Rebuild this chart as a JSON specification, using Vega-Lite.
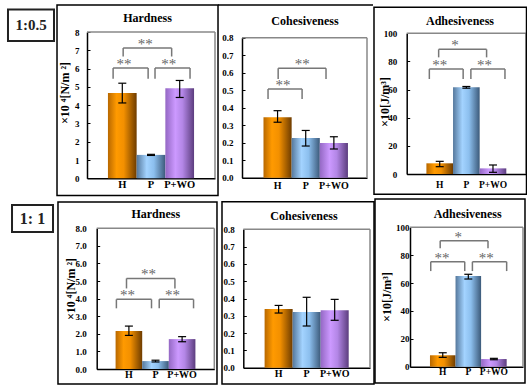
{
"$schema": "https://vega.github.io/schema/vega-lite/v6.json",
"background": "white",
"width": 527, "height": 385,
"autosize": {"type": "none"},
"padding": 0,
"datasets": {
"bars": [
{"panel":"t1","cat":"H","val":4.66,"lo":4.12,"hi":5.2},
{"panel":"t1","cat":"P","val":1.28,"lo":1.25,"hi":1.31},
{"panel":"t1","cat":"P+WO","val":4.93,"lo":4.42,"hi":5.35},
{"panel":"t2","cat":"H","val":0.345,"lo":0.317,"hi":0.383},
{"panel":"t2","cat":"P","val":0.227,"lo":0.181,"hi":0.27},
{"panel":"t2","cat":"P+WO","val":0.198,"lo":0.164,"hi":0.234},
{"panel":"t3","cat":"H","val":7.6,"lo":5.2,"hi":9.0},
{"panel":"t3","cat":"P","val":61.6,"lo":61.0,"hi":62.2},
{"panel":"t3","cat":"P+WO","val":4.0,"lo":1.2,"hi":6.4},
{"panel":"b1","cat":"H","val":2.16,"lo":1.91,"hi":2.44},
{"panel":"b1","cat":"P","val":0.45,"lo":0.4,"hi":0.5},
{"panel":"b1","cat":"P+WO","val":1.7,"lo":1.55,"hi":1.84},
{"panel":"b2","cat":"H","val":0.339,"lo":0.316,"hi":0.36},
{"panel":"b2","cat":"P","val":0.322,"lo":0.241,"hi":0.407},
{"panel":"b2","cat":"P+WO","val":0.332,"lo":0.274,"hi":0.395},
{"panel":"b3","cat":"H","val":8.2,"lo":6.7,"hi":10.0},
{"panel":"b3","cat":"P","val":65.1,"lo":62.9,"hi":66.3},
{"panel":"b3","cat":"P+WO","val":5.5,"lo":5.0,"hi":6.0}
],
"brk": [
{"panel":"t1","xa":-0.32,"xb":0.9,"yt":6.03,"yl":5.44,"sx":0.06,"star":"**"},
{"panel":"t1","xa":1.14,"xb":2.36,"yt":6.03,"yl":5.44,"sx":1.62,"star":"**"},
{"panel":"t1","xa":0.03,"xb":1.72,"yt":7.12,"yl":6.66,"sx":0.8,"star":"**"},
{"panel":"t2","xa":-0.34,"xb":0.87,"yt":0.507,"yl":0.45,"sx":0.19,"star":"**"},
{"panel":"t2","xa":0.02,"xb":1.72,"yt":0.625,"yl":0.564,"sx":0.88,"star":"**"},
{"panel":"t3","xa":-0.39,"xb":0.88,"yt":74.6,"yl":67.5,"sx":0.0,"star":"**"},
{"panel":"t3","xa":1.17,"xb":2.45,"yt":74.6,"yl":67.5,"sx":1.68,"star":"**"},
{"panel":"t3","xa":-0.04,"xb":1.76,"yt":88.6,"yl":82.9,"sx":0.57,"star":"*"},
{"panel":"b1","xa":-0.47,"xb":0.85,"yt":3.96,"yl":3.45,"sx":-0.05,"star":"**"},
{"panel":"b1","xa":1.14,"xb":2.43,"yt":3.96,"yl":3.45,"sx":1.64,"star":"**"},
{"panel":"b1","xa":-0.09,"xb":1.73,"yt":5.15,"yl":4.58,"sx":0.74,"star":"**"},
{"panel":"b3","xa":-0.47,"xb":0.86,"yt":75.3,"yl":68.6,"sx":-0.03,"star":"**"},
{"panel":"b3","xa":1.16,"xb":2.5,"yt":75.3,"yl":68.6,"sx":1.7,"star":"**"},
{"panel":"b3","xa":-0.1,"xb":1.77,"yt":90.4,"yl":84.9,"sx":0.61,"star":"*"}
]
},
"config": {
"font": "Liberation Serif",
"view": {"stroke": null},
"axis": {"labelFont": "Liberation Serif", "labelFontWeight": "bold", "labelColor": "black", "labelFontSize": 9, "domainColor": "black", "domainWidth": 1.5, "tickColor": "black", "grid": false, "labelOverlap": false, "minExtent": 0},
"axisX": {"ticks": false, "labelAngle": 0},
"axisY": {"tickSize": -3, "tickWidth": 1},
"text": {"font": "Liberation Serif"}
},
"resolve": {"scale": {"x": "independent", "y": "independent"}, "axis": {"x": "independent", "y": "independent"}},
"layer": [
{"resolve": {"scale": {"x": "independent"}}, "layer": [
{"layer": [
{"data": {"name": "bars"}, "transform": [{"filter": "datum.panel==='t1' && datum.cat==='H'"}],
"mark": {"type": "bar", "fill": {"gradient": "linear", "x1": 0, "y1": 0, "x2": 1, "y2": 0, "stops": [{"offset": 0, "color": "#b86800"}, {"offset": 0.3, "color": "#ff9a00"}, {"offset": 0.55, "color": "#f39000"}, {"offset": 1, "color": "#6e3c00"}]}},
"encoding": {"x": {"field": "cat", "type": "nominal", "scale": {"domain": ["H", "P", "P+WO"], "range": [87, 215], "paddingInner": 0, "paddingOuter": 0.73}, "axis": {"orient": "bottom", "offset": -206.7, "title": null, "labelFontSize": 10.5, "labelPadding": 1}},
"y": {"field": "val", "type": "quantitative", "scale": {"domain": [0, 8], "range": [178.3, 32], "nice": false, "zero": false}, "axis": {"orient": "left", "offset": -87, "values": [0, 1, 2, 3, 4, 5, 6, 7, 8], "format": "d", "title": null, "labelPadding": 11}}}},
{"data": {"name": "bars"}, "transform": [{"filter": "datum.panel==='t1' && datum.cat==='P'"}],
"mark": {"type": "bar", "fill": {"gradient": "linear", "x1": 0, "y1": 0, "x2": 1, "y2": 0, "stops": [{"offset": 0, "color": "#55789c"}, {"offset": 0.35, "color": "#a3d3ff"}, {"offset": 0.6, "color": "#8cbfee"}, {"offset": 1, "color": "#3c5a7a"}]}},
"encoding": {"x": {"field": "cat", "type": "nominal", "axis": {"orient": "bottom", "offset": -206.7, "title": null, "labelFontSize": 10.5, "labelPadding": 1}}, "y": {"field": "val", "type": "quantitative", "axis": {"orient": "left", "offset": -87, "values": [0, 1, 2, 3, 4, 5, 6, 7, 8], "format": "d", "title": null, "labelPadding": 11}}}},
{"data": {"name": "bars"}, "transform": [{"filter": "datum.panel==='t1' && datum.cat==='P+WO'"}],
"mark": {"type": "bar", "fill": {"gradient": "linear", "x1": 0, "y1": 0, "x2": 1, "y2": 0, "stops": [{"offset": 0, "color": "#9468c4"}, {"offset": 0.35, "color": "#cc99ff"}, {"offset": 0.6, "color": "#b386e6"}, {"offset": 1, "color": "#5c3d7e"}]}},
"encoding": {"x": {"field": "cat", "type": "nominal", "axis": {"orient": "bottom", "offset": -206.7, "title": null, "labelFontSize": 10.5, "labelPadding": 1}}, "y": {"field": "val", "type": "quantitative", "axis": {"orient": "left", "offset": -87, "values": [0, 1, 2, 3, 4, 5, 6, 7, 8], "format": "d", "title": null, "labelPadding": 11}}}},
{"data": {"name": "bars"}, "transform": [{"filter": "datum.panel==='t1'"}], "mark": {"type": "rule", "color": "black", "strokeWidth": 1.2},
"encoding": {"x": {"field": "cat", "type": "nominal", "axis": {"orient": "bottom", "offset": -206.7, "title": null, "labelFontSize": 10.5, "labelPadding": 1}}, "y": {"field": "lo", "type": "quantitative", "axis": {"orient": "left", "offset": -87, "values": [0, 1, 2, 3, 4, 5, 6, 7, 8], "format": "d", "title": null, "labelPadding": 11}}, "y2": {"field": "hi"}}},
{"data": {"name": "bars"}, "transform": [{"filter": "datum.panel==='t1'"}], "mark": {"type": "tick", "color": "black", "thickness": 1.2, "size": 8, "opacity": 1},
"encoding": {"x": {"field": "cat", "type": "nominal", "axis": {"orient": "bottom", "offset": -206.7, "title": null, "labelFontSize": 10.5, "labelPadding": 1}}, "y": {"field": "lo", "type": "quantitative", "axis": {"orient": "left", "offset": -87, "values": [0, 1, 2, 3, 4, 5, 6, 7, 8], "format": "d", "title": null, "labelPadding": 11}}}},
{"data": {"name": "bars"}, "transform": [{"filter": "datum.panel==='t1'"}], "mark": {"type": "tick", "color": "black", "thickness": 1.2, "size": 8, "opacity": 1},
"encoding": {"x": {"field": "cat", "type": "nominal", "axis": {"orient": "bottom", "offset": -206.7, "title": null, "labelFontSize": 10.5, "labelPadding": 1}}, "y": {"field": "hi", "type": "quantitative", "axis": {"orient": "left", "offset": -87, "values": [0, 1, 2, 3, 4, 5, 6, 7, 8], "format": "d", "title": null, "labelPadding": 11}}}}
]},
{"layer": [
{"data": {"values": [{}]}, "mark": {"type": "rule", "color": "#888", "strokeWidth": 1.5},
"encoding": {"x": {"datum": -1.23, "type": "quantitative", "scale": {"domain": [-1.23, 3.23], "range": [87, 215], "nice": false, "zero": false}, "axis": null}, "x2": {"datum": 3.23}, "y": {"datum": 8, "type": "quantitative", "axis": {"orient": "left", "offset": -87, "values": [0, 1, 2, 3, 4, 5, 6, 7, 8], "format": "d", "title": null, "labelPadding": 11}}}},
{"data": {"values": [{}]}, "mark": {"type": "rule", "color": "#888", "strokeWidth": 1.5},
"encoding": {"x": {"datum": 3.23, "type": "quantitative", "axis": null}, "y": {"datum": 0, "type": "quantitative", "axis": {"orient": "left", "offset": -87, "values": [0, 1, 2, 3, 4, 5, 6, 7, 8], "format": "d", "title": null, "labelPadding": 11}}, "y2": {"datum": 8}}},
{"data": {"name": "brk"}, "transform": [{"filter": "datum.panel==='t1'"}], "mark": {"type": "rule", "color": "#777", "strokeWidth": 1.5},
"encoding": {"x": {"field": "xa", "type": "quantitative", "axis": null}, "x2": {"field": "xb"}, "y": {"field": "yt", "type": "quantitative", "axis": {"orient": "left", "offset": -87, "values": [0, 1, 2, 3, 4, 5, 6, 7, 8], "format": "d", "title": null, "labelPadding": 11}}}},
{"data": {"name": "brk"}, "transform": [{"filter": "datum.panel==='t1'"}], "mark": {"type": "rule", "color": "#777", "strokeWidth": 1.5},
"encoding": {"x": {"field": "xa", "type": "quantitative", "axis": null}, "y": {"field": "yt", "type": "quantitative", "axis": {"orient": "left", "offset": -87, "values": [0, 1, 2, 3, 4, 5, 6, 7, 8], "format": "d", "title": null, "labelPadding": 11}}, "y2": {"field": "yl"}}},
{"data": {"name": "brk"}, "transform": [{"filter": "datum.panel==='t1'"}], "mark": {"type": "rule", "color": "#777", "strokeWidth": 1.5},
"encoding": {"x": {"field": "xb", "type": "quantitative", "axis": null}, "y": {"field": "yt", "type": "quantitative", "axis": {"orient": "left", "offset": -87, "values": [0, 1, 2, 3, 4, 5, 6, 7, 8], "format": "d", "title": null, "labelPadding": 11}}, "y2": {"field": "yl"}}},
{"data": {"name": "brk"}, "transform": [{"filter": "datum.panel==='t1'"}], "mark": {"type": "text", "fontSize": 15, "fill": "#666", "baseline": "alphabetic", "dy": 1},
"encoding": {"x": {"field": "sx", "type": "quantitative", "axis": null}, "y": {"field": "yt", "type": "quantitative", "axis": {"orient": "left", "offset": -87, "values": [0, 1, 2, 3, 4, 5, 6, 7, 8], "format": "d", "title": null, "labelPadding": 11}}, "text": {"field": "star"}}},
{"data": {"values": [{}]}, "mark": {"type": "rect", "filled": false, "stroke": "black", "strokeWidth": 1.5},
"encoding": {"x": {"datum": -2.275, "type": "quantitative", "axis": null}, "x2": {"datum": 3.335}, "y": {"datum": 9.477, "type": "quantitative", "axis": {"orient": "left", "offset": -87, "values": [0, 1, 2, 3, 4, 5, 6, 7, 8], "format": "d", "title": null, "labelPadding": 11}}, "y2": {"datum": -0.9405}}},
{"data": {"values": [{}]}, "mark": {"type": "rect", "filled": false, "stroke": "#222", "strokeWidth": 2},
"encoding": {"x": {"datum": -3.983, "type": "quantitative", "axis": null}, "x2": {"datum": -2.38}, "y": {"datum": 9.23, "type": "quantitative", "axis": {"orient": "left", "offset": -87, "values": [0, 1, 2, 3, 4, 5, 6, 7, 8], "format": "d", "title": null, "labelPadding": 11}}, "y2": {"datum": 7.508}}},
{"data": {"values": [{}]}, "mark": {"type": "text", "text": "1:0.5", "fontSize": 15, "fontWeight": "bold", "fill": "#222", "baseline": "middle"},
"encoding": {"x": {"datum": -3.181, "type": "quantitative", "axis": null}, "y": {"datum": 8.383, "type": "quantitative", "axis": {"orient": "left", "offset": -87, "values": [0, 1, 2, 3, 4, 5, 6, 7, 8], "format": "d", "title": null, "labelPadding": 11}}}},
{"data": {"values": [{}]}, "mark": {"type": "text", "text": "Hardness", "fontSize": 12, "fontWeight": "bold", "fill": "black", "baseline": "middle"},
"encoding": {"x": {"datum": 0.878, "type": "quantitative", "axis": null}, "y": {"datum": 8.766, "type": "quantitative", "axis": {"orient": "left", "offset": -87, "values": [0, 1, 2, 3, 4, 5, 6, 7, 8], "format": "d", "title": null, "labelPadding": 11}}}},
{"data": {"values": [{}]}, "mark": {"type": "text", "text": "×10 ⁴[N/m ²]", "fontSize": 12, "fontWeight": "bold", "fill": "black", "baseline": "middle", "angle": 270},
"encoding": {"x": {"datum": -1.997, "type": "quantitative", "axis": null}, "y": {"datum": 4.664, "type": "quantitative", "axis": {"orient": "left", "offset": -87, "values": [0, 1, 2, 3, 4, 5, 6, 7, 8], "format": "d", "title": null, "labelPadding": 11}}}}
]}
]},
{"resolve": {"scale": {"x": "independent"}}, "layer": [
{"layer": [
{"data": {"name": "bars"}, "transform": [{"filter": "datum.panel==='t2' && datum.cat==='H'"}],
"mark": {"type": "bar", "fill": {"gradient": "linear", "x1": 0, "y1": 0, "x2": 1, "y2": 0, "stops": [{"offset": 0, "color": "#b86800"}, {"offset": 0.3, "color": "#ff9a00"}, {"offset": 0.55, "color": "#f39000"}, {"offset": 1, "color": "#6e3c00"}]}},
"encoding": {"x": {"field": "cat", "type": "nominal", "scale": {"domain": ["H", "P", "P+WO"], "range": [242, 367], "paddingInner": 0, "paddingOuter": 0.72, "align": 0.53}, "axis": {"orient": "bottom", "offset": -207.3, "title": null, "labelFontSize": 10, "labelPadding": 3}},
"y": {"field": "val", "type": "quantitative", "scale": {"domain": [0, 0.8], "range": [177.7, 37.7], "nice": false, "zero": false}, "axis": {"orient": "left", "offset": -242, "values": [0, 0.1, 0.2, 0.3, 0.4, 0.5, 0.6, 0.7, 0.8], "format": ".1f", "title": null, "labelPadding": 12}}}},
{"data": {"name": "bars"}, "transform": [{"filter": "datum.panel==='t2' && datum.cat==='P'"}],
"mark": {"type": "bar", "fill": {"gradient": "linear", "x1": 0, "y1": 0, "x2": 1, "y2": 0, "stops": [{"offset": 0, "color": "#55789c"}, {"offset": 0.35, "color": "#a3d3ff"}, {"offset": 0.6, "color": "#8cbfee"}, {"offset": 1, "color": "#3c5a7a"}]}},
"encoding": {"x": {"field": "cat", "type": "nominal", "axis": {"orient": "bottom", "offset": -207.3, "title": null, "labelFontSize": 10, "labelPadding": 3}}, "y": {"field": "val", "type": "quantitative", "axis": {"orient": "left", "offset": -242, "values": [0, 0.1, 0.2, 0.3, 0.4, 0.5, 0.6, 0.7, 0.8], "format": ".1f", "title": null, "labelPadding": 12}}}},
{"data": {"name": "bars"}, "transform": [{"filter": "datum.panel==='t2' && datum.cat==='P+WO'"}],
"mark": {"type": "bar", "fill": {"gradient": "linear", "x1": 0, "y1": 0, "x2": 1, "y2": 0, "stops": [{"offset": 0, "color": "#9468c4"}, {"offset": 0.35, "color": "#cc99ff"}, {"offset": 0.6, "color": "#b386e6"}, {"offset": 1, "color": "#5c3d7e"}]}},
"encoding": {"x": {"field": "cat", "type": "nominal", "axis": {"orient": "bottom", "offset": -207.3, "title": null, "labelFontSize": 10, "labelPadding": 3}}, "y": {"field": "val", "type": "quantitative", "axis": {"orient": "left", "offset": -242, "values": [0, 0.1, 0.2, 0.3, 0.4, 0.5, 0.6, 0.7, 0.8], "format": ".1f", "title": null, "labelPadding": 12}}}},
{"data": {"name": "bars"}, "transform": [{"filter": "datum.panel==='t2'"}], "mark": {"type": "rule", "color": "black", "strokeWidth": 1.2},
"encoding": {"x": {"field": "cat", "type": "nominal", "axis": {"orient": "bottom", "offset": -207.3, "title": null, "labelFontSize": 10, "labelPadding": 3}}, "y": {"field": "lo", "type": "quantitative", "axis": {"orient": "left", "offset": -242, "values": [0, 0.1, 0.2, 0.3, 0.4, 0.5, 0.6, 0.7, 0.8], "format": ".1f", "title": null, "labelPadding": 12}}, "y2": {"field": "hi"}}},
{"data": {"name": "bars"}, "transform": [{"filter": "datum.panel==='t2'"}], "mark": {"type": "tick", "color": "black", "thickness": 1.2, "size": 8, "opacity": 1},
"encoding": {"x": {"field": "cat", "type": "nominal", "axis": {"orient": "bottom", "offset": -207.3, "title": null, "labelFontSize": 10, "labelPadding": 3}}, "y": {"field": "lo", "type": "quantitative", "axis": {"orient": "left", "offset": -242, "values": [0, 0.1, 0.2, 0.3, 0.4, 0.5, 0.6, 0.7, 0.8], "format": ".1f", "title": null, "labelPadding": 12}}}},
{"data": {"name": "bars"}, "transform": [{"filter": "datum.panel==='t2'"}], "mark": {"type": "tick", "color": "black", "thickness": 1.2, "size": 8, "opacity": 1},
"encoding": {"x": {"field": "cat", "type": "nominal", "axis": {"orient": "bottom", "offset": -207.3, "title": null, "labelFontSize": 10, "labelPadding": 3}}, "y": {"field": "hi", "type": "quantitative", "axis": {"orient": "left", "offset": -242, "values": [0, 0.1, 0.2, 0.3, 0.4, 0.5, 0.6, 0.7, 0.8], "format": ".1f", "title": null, "labelPadding": 12}}}}
]},
{"layer": [
{"data": {"values": [{}]}, "mark": {"type": "rule", "color": "#888", "strokeWidth": 1.5},
"encoding": {"x": {"datum": -1.265, "type": "quantitative", "scale": {"domain": [-1.265, 3.176], "range": [242, 367], "nice": false, "zero": false}, "axis": null}, "x2": {"datum": 3.176}, "y": {"datum": 0.8, "type": "quantitative", "axis": {"orient": "left", "offset": -242, "values": [0, 0.1, 0.2, 0.3, 0.4, 0.5, 0.6, 0.7, 0.8], "format": ".1f", "title": null, "labelPadding": 12}}}},
{"data": {"values": [{}]}, "mark": {"type": "rule", "color": "#888", "strokeWidth": 1.5},
"encoding": {"x": {"datum": 3.176, "type": "quantitative", "axis": null}, "y": {"datum": 0, "type": "quantitative", "axis": {"orient": "left", "offset": -242, "values": [0, 0.1, 0.2, 0.3, 0.4, 0.5, 0.6, 0.7, 0.8], "format": ".1f", "title": null, "labelPadding": 12}}, "y2": {"datum": 0.8}}},
{"data": {"name": "brk"}, "transform": [{"filter": "datum.panel==='t2'"}], "mark": {"type": "rule", "color": "#777", "strokeWidth": 1.5},
"encoding": {"x": {"field": "xa", "type": "quantitative", "axis": null}, "x2": {"field": "xb"}, "y": {"field": "yt", "type": "quantitative", "axis": {"orient": "left", "offset": -242, "values": [0, 0.1, 0.2, 0.3, 0.4, 0.5, 0.6, 0.7, 0.8], "format": ".1f", "title": null, "labelPadding": 12}}}},
{"data": {"name": "brk"}, "transform": [{"filter": "datum.panel==='t2'"}], "mark": {"type": "rule", "color": "#777", "strokeWidth": 1.5},
"encoding": {"x": {"field": "xa", "type": "quantitative", "axis": null}, "y": {"field": "yt", "type": "quantitative", "axis": {"orient": "left", "offset": -242, "values": [0, 0.1, 0.2, 0.3, 0.4, 0.5, 0.6, 0.7, 0.8], "format": ".1f", "title": null, "labelPadding": 12}}, "y2": {"field": "yl"}}},
{"data": {"name": "brk"}, "transform": [{"filter": "datum.panel==='t2'"}], "mark": {"type": "rule", "color": "#777", "strokeWidth": 1.5},
"encoding": {"x": {"field": "xb", "type": "quantitative", "axis": null}, "y": {"field": "yt", "type": "quantitative", "axis": {"orient": "left", "offset": -242, "values": [0, 0.1, 0.2, 0.3, 0.4, 0.5, 0.6, 0.7, 0.8], "format": ".1f", "title": null, "labelPadding": 12}}, "y2": {"field": "yl"}}},
{"data": {"name": "brk"}, "transform": [{"filter": "datum.panel==='t2'"}], "mark": {"type": "text", "fontSize": 15, "fill": "#666", "baseline": "alphabetic", "dy": 1},
"encoding": {"x": {"field": "sx", "type": "quantitative", "axis": null}, "y": {"field": "yt", "type": "quantitative", "axis": {"orient": "left", "offset": -242, "values": [0, 0.1, 0.2, 0.3, 0.4, 0.5, 0.6, 0.7, 0.8], "format": ".1f", "title": null, "labelPadding": 12}}, "text": {"field": "star"}}},
{"data": {"values": [{}]}, "mark": {"type": "rule", "color": "black", "strokeWidth": 1.5},
"encoding": {"x": {"datum": -2.118, "type": "quantitative", "axis": null}, "x2": {"datum": 3.389}, "y": {"datum": 0.9869, "type": "quantitative", "axis": {"orient": "left", "offset": -242, "values": [0, 0.1, 0.2, 0.3, 0.4, 0.5, 0.6, 0.7, 0.8], "format": ".1f", "title": null, "labelPadding": 12}}}},
{"data": {"values": [{}]}, "mark": {"type": "text", "text": "Cohesiveness", "fontSize": 12, "fontWeight": "bold", "fill": "black", "baseline": "middle"},
"encoding": {"x": {"datum": 0.973, "type": "quantitative", "axis": null}, "y": {"datum": 0.8971, "type": "quantitative", "axis": {"orient": "left", "offset": -242, "values": [0, 0.1, 0.2, 0.3, 0.4, 0.5, 0.6, 0.7, 0.8], "format": ".1f", "title": null, "labelPadding": 12}}}}
]}
]},
{"resolve": {"scale": {"x": "independent"}}, "layer": [
{"layer": [
{"data": {"name": "bars"}, "transform": [{"filter": "datum.panel==='t3' && datum.cat==='H'"}],
"mark": {"type": "bar", "fill": {"gradient": "linear", "x1": 0, "y1": 0, "x2": 1, "y2": 0, "stops": [{"offset": 0, "color": "#b86800"}, {"offset": 0.3, "color": "#ff9a00"}, {"offset": 0.55, "color": "#f39000"}, {"offset": 1, "color": "#6e3c00"}]}},
"encoding": {"x": {"field": "cat", "type": "nominal", "scale": {"domain": ["H", "P", "P+WO"], "range": [406.7, 526], "paddingInner": 0, "paddingOuter": 0.74}, "axis": {"orient": "bottom", "offset": -211, "title": null, "labelFontSize": 9.5, "labelPadding": 5}},
"y": {"field": "val", "type": "quantitative", "scale": {"domain": [0, 100], "range": [174, 33.3], "nice": false, "zero": false}, "axis": {"orient": "left", "offset": -406.7, "values": [0, 20, 40, 60, 80, 100], "format": "d", "title": null, "labelPadding": 13}}}},
{"data": {"name": "bars"}, "transform": [{"filter": "datum.panel==='t3' && datum.cat==='P'"}],
"mark": {"type": "bar", "fill": {"gradient": "linear", "x1": 0, "y1": 0, "x2": 1, "y2": 0, "stops": [{"offset": 0, "color": "#55789c"}, {"offset": 0.35, "color": "#a3d3ff"}, {"offset": 0.6, "color": "#8cbfee"}, {"offset": 1, "color": "#3c5a7a"}]}},
"encoding": {"x": {"field": "cat", "type": "nominal", "axis": {"orient": "bottom", "offset": -211, "title": null, "labelFontSize": 9.5, "labelPadding": 5}}, "y": {"field": "val", "type": "quantitative", "axis": {"orient": "left", "offset": -406.7, "values": [0, 20, 40, 60, 80, 100], "format": "d", "title": null, "labelPadding": 13}}}},
{"data": {"name": "bars"}, "transform": [{"filter": "datum.panel==='t3' && datum.cat==='P+WO'"}],
"mark": {"type": "bar", "fill": {"gradient": "linear", "x1": 0, "y1": 0, "x2": 1, "y2": 0, "stops": [{"offset": 0, "color": "#9468c4"}, {"offset": 0.35, "color": "#cc99ff"}, {"offset": 0.6, "color": "#b386e6"}, {"offset": 1, "color": "#5c3d7e"}]}},
"encoding": {"x": {"field": "cat", "type": "nominal", "axis": {"orient": "bottom", "offset": -211, "title": null, "labelFontSize": 9.5, "labelPadding": 5}}, "y": {"field": "val", "type": "quantitative", "axis": {"orient": "left", "offset": -406.7, "values": [0, 20, 40, 60, 80, 100], "format": "d", "title": null, "labelPadding": 13}}}},
{"data": {"name": "bars"}, "transform": [{"filter": "datum.panel==='t3'"}], "mark": {"type": "rule", "color": "black", "strokeWidth": 1.2},
"encoding": {"x": {"field": "cat", "type": "nominal", "axis": {"orient": "bottom", "offset": -211, "title": null, "labelFontSize": 9.5, "labelPadding": 5}}, "y": {"field": "lo", "type": "quantitative", "axis": {"orient": "left", "offset": -406.7, "values": [0, 20, 40, 60, 80, 100], "format": "d", "title": null, "labelPadding": 13}}, "y2": {"field": "hi"}}},
{"data": {"name": "bars"}, "transform": [{"filter": "datum.panel==='t3'"}], "mark": {"type": "tick", "color": "black", "thickness": 1.2, "size": 8, "opacity": 1},
"encoding": {"x": {"field": "cat", "type": "nominal", "axis": {"orient": "bottom", "offset": -211, "title": null, "labelFontSize": 9.5, "labelPadding": 5}}, "y": {"field": "lo", "type": "quantitative", "axis": {"orient": "left", "offset": -406.7, "values": [0, 20, 40, 60, 80, 100], "format": "d", "title": null, "labelPadding": 13}}}},
{"data": {"name": "bars"}, "transform": [{"filter": "datum.panel==='t3'"}], "mark": {"type": "tick", "color": "black", "thickness": 1.2, "size": 8, "opacity": 1},
"encoding": {"x": {"field": "cat", "type": "nominal", "axis": {"orient": "bottom", "offset": -211, "title": null, "labelFontSize": 9.5, "labelPadding": 5}}, "y": {"field": "hi", "type": "quantitative", "axis": {"orient": "left", "offset": -406.7, "values": [0, 20, 40, 60, 80, 100], "format": "d", "title": null, "labelPadding": 13}}}}
]},
{"layer": [
{"data": {"values": [{}]}, "mark": {"type": "rule", "color": "#888", "strokeWidth": 1.5},
"encoding": {"x": {"datum": -1.24, "type": "quantitative", "scale": {"domain": [-1.24, 3.24], "range": [406.7, 526], "nice": false, "zero": false}, "axis": null}, "x2": {"datum": 3.24}, "y": {"datum": 100, "type": "quantitative", "axis": {"orient": "left", "offset": -406.7, "values": [0, 20, 40, 60, 80, 100], "format": "d", "title": null, "labelPadding": 13}}}},
{"data": {"values": [{}]}, "mark": {"type": "rule", "color": "#888", "strokeWidth": 1.5},
"encoding": {"x": {"datum": 3.24, "type": "quantitative", "axis": null}, "y": {"datum": 0, "type": "quantitative", "axis": {"orient": "left", "offset": -406.7, "values": [0, 20, 40, 60, 80, 100], "format": "d", "title": null, "labelPadding": 13}}, "y2": {"datum": 100}}},
{"data": {"name": "brk"}, "transform": [{"filter": "datum.panel==='t3'"}], "mark": {"type": "rule", "color": "#777", "strokeWidth": 1.5},
"encoding": {"x": {"field": "xa", "type": "quantitative", "axis": null}, "x2": {"field": "xb"}, "y": {"field": "yt", "type": "quantitative", "axis": {"orient": "left", "offset": -406.7, "values": [0, 20, 40, 60, 80, 100], "format": "d", "title": null, "labelPadding": 13}}}},
{"data": {"name": "brk"}, "transform": [{"filter": "datum.panel==='t3'"}], "mark": {"type": "rule", "color": "#777", "strokeWidth": 1.5},
"encoding": {"x": {"field": "xa", "type": "quantitative", "axis": null}, "y": {"field": "yt", "type": "quantitative", "axis": {"orient": "left", "offset": -406.7, "values": [0, 20, 40, 60, 80, 100], "format": "d", "title": null, "labelPadding": 13}}, "y2": {"field": "yl"}}},
{"data": {"name": "brk"}, "transform": [{"filter": "datum.panel==='t3'"}], "mark": {"type": "rule", "color": "#777", "strokeWidth": 1.5},
"encoding": {"x": {"field": "xb", "type": "quantitative", "axis": null}, "y": {"field": "yt", "type": "quantitative", "axis": {"orient": "left", "offset": -406.7, "values": [0, 20, 40, 60, 80, 100], "format": "d", "title": null, "labelPadding": 13}}, "y2": {"field": "yl"}}},
{"data": {"name": "brk"}, "transform": [{"filter": "datum.panel==='t3'"}], "mark": {"type": "text", "fontSize": 15, "fill": "#666", "baseline": "alphabetic", "dy": 1},
"encoding": {"x": {"field": "sx", "type": "quantitative", "axis": null}, "y": {"field": "yt", "type": "quantitative", "axis": {"orient": "left", "offset": -406.7, "values": [0, 20, 40, 60, 80, 100], "format": "d", "title": null, "labelPadding": 13}}, "text": {"field": "star"}}},
{"data": {"values": [{}]}, "mark": {"type": "rect", "filled": false, "stroke": "black", "strokeWidth": 1.5},
"encoding": {"x": {"datum": -2.468, "type": "quantitative", "axis": null}, "x2": {"datum": 3.259}, "y": {"datum": 118.5, "type": "quantitative", "axis": {"orient": "left", "offset": -406.7, "values": [0, 20, 40, 60, 80, 100], "format": "d", "title": null, "labelPadding": 13}}, "y2": {"datum": -14.43}}},
{"data": {"values": [{}]}, "mark": {"type": "text", "text": "Adhesiveness", "fontSize": 12, "fontWeight": "bold", "fill": "black", "baseline": "middle"},
"encoding": {"x": {"datum": 0.762, "type": "quantitative", "axis": null}, "y": {"datum": 108.96, "type": "quantitative", "axis": {"orient": "left", "offset": -406.7, "values": [0, 20, 40, 60, 80, 100], "format": "d", "title": null, "labelPadding": 13}}}},
{"data": {"values": [{}]}, "mark": {"type": "text", "text": "×10[J/m³]", "fontSize": 12, "fontWeight": "bold", "fill": "black", "baseline": "middle", "angle": 270},
"encoding": {"x": {"datum": -2.055, "type": "quantitative", "axis": null}, "y": {"datum": 51.17, "type": "quantitative", "axis": {"orient": "left", "offset": -406.7, "values": [0, 20, 40, 60, 80, 100], "format": "d", "title": null, "labelPadding": 13}}}}
]}
]},
{"resolve": {"scale": {"x": "independent"}}, "layer": [
{"layer": [
{"data": {"name": "bars"}, "transform": [{"filter": "datum.panel==='b1' && datum.cat==='H'"}],
"mark": {"type": "bar", "fill": {"gradient": "linear", "x1": 0, "y1": 0, "x2": 1, "y2": 0, "stops": [{"offset": 0, "color": "#b86800"}, {"offset": 0.3, "color": "#ff9a00"}, {"offset": 0.55, "color": "#f39000"}, {"offset": 1, "color": "#6e3c00"}]}},
"encoding": {"x": {"field": "cat", "type": "nominal", "scale": {"domain": ["H", "P", "P+WO"], "range": [96.7, 214.3], "paddingInner": 0, "paddingOuter": 0.71}, "axis": {"orient": "bottom", "offset": -16, "title": null, "labelFontSize": 10, "labelPadding": 0}},
"y": {"field": "val", "type": "quantitative", "scale": {"domain": [0, 8], "range": [369, 228.3], "nice": false, "zero": false}, "axis": {"orient": "left", "offset": -96.7, "values": [0, 1, 2, 3, 4, 5, 6, 7, 8], "format": ".1f", "title": null, "labelPadding": 13.5}}}},
{"data": {"name": "bars"}, "transform": [{"filter": "datum.panel==='b1' && datum.cat==='P'"}],
"mark": {"type": "bar", "fill": {"gradient": "linear", "x1": 0, "y1": 0, "x2": 1, "y2": 0, "stops": [{"offset": 0, "color": "#55789c"}, {"offset": 0.35, "color": "#a3d3ff"}, {"offset": 0.6, "color": "#8cbfee"}, {"offset": 1, "color": "#3c5a7a"}]}},
"encoding": {"x": {"field": "cat", "type": "nominal", "axis": {"orient": "bottom", "offset": -16, "title": null, "labelFontSize": 10, "labelPadding": 0}}, "y": {"field": "val", "type": "quantitative", "axis": {"orient": "left", "offset": -96.7, "values": [0, 1, 2, 3, 4, 5, 6, 7, 8], "format": ".1f", "title": null, "labelPadding": 13.5}}}},
{"data": {"name": "bars"}, "transform": [{"filter": "datum.panel==='b1' && datum.cat==='P+WO'"}],
"mark": {"type": "bar", "fill": {"gradient": "linear", "x1": 0, "y1": 0, "x2": 1, "y2": 0, "stops": [{"offset": 0, "color": "#9468c4"}, {"offset": 0.35, "color": "#cc99ff"}, {"offset": 0.6, "color": "#b386e6"}, {"offset": 1, "color": "#5c3d7e"}]}},
"encoding": {"x": {"field": "cat", "type": "nominal", "axis": {"orient": "bottom", "offset": -16, "title": null, "labelFontSize": 10, "labelPadding": 0}}, "y": {"field": "val", "type": "quantitative", "axis": {"orient": "left", "offset": -96.7, "values": [0, 1, 2, 3, 4, 5, 6, 7, 8], "format": ".1f", "title": null, "labelPadding": 13.5}}}},
{"data": {"name": "bars"}, "transform": [{"filter": "datum.panel==='b1'"}], "mark": {"type": "rule", "color": "black", "strokeWidth": 1.2},
"encoding": {"x": {"field": "cat", "type": "nominal", "axis": {"orient": "bottom", "offset": -16, "title": null, "labelFontSize": 10, "labelPadding": 0}}, "y": {"field": "lo", "type": "quantitative", "axis": {"orient": "left", "offset": -96.7, "values": [0, 1, 2, 3, 4, 5, 6, 7, 8], "format": ".1f", "title": null, "labelPadding": 13.5}}, "y2": {"field": "hi"}}},
{"data": {"name": "bars"}, "transform": [{"filter": "datum.panel==='b1'"}], "mark": {"type": "tick", "color": "black", "thickness": 1.2, "size": 8, "opacity": 1},
"encoding": {"x": {"field": "cat", "type": "nominal", "axis": {"orient": "bottom", "offset": -16, "title": null, "labelFontSize": 10, "labelPadding": 0}}, "y": {"field": "lo", "type": "quantitative", "axis": {"orient": "left", "offset": -96.7, "values": [0, 1, 2, 3, 4, 5, 6, 7, 8], "format": ".1f", "title": null, "labelPadding": 13.5}}}},
{"data": {"name": "bars"}, "transform": [{"filter": "datum.panel==='b1'"}], "mark": {"type": "tick", "color": "black", "thickness": 1.2, "size": 8, "opacity": 1},
"encoding": {"x": {"field": "cat", "type": "nominal", "axis": {"orient": "bottom", "offset": -16, "title": null, "labelFontSize": 10, "labelPadding": 0}}, "y": {"field": "hi", "type": "quantitative", "axis": {"orient": "left", "offset": -96.7, "values": [0, 1, 2, 3, 4, 5, 6, 7, 8], "format": ".1f", "title": null, "labelPadding": 13.5}}}}
]},
{"layer": [
{"data": {"values": [{}]}, "mark": {"type": "rule", "color": "#888", "strokeWidth": 1.5},
"encoding": {"x": {"datum": -1.21, "type": "quantitative", "scale": {"domain": [-1.21, 3.21], "range": [96.7, 214.3], "nice": false, "zero": false}, "axis": null}, "x2": {"datum": 3.21}, "y": {"datum": 8, "type": "quantitative", "axis": {"orient": "left", "offset": -96.7, "values": [0, 1, 2, 3, 4, 5, 6, 7, 8], "format": ".1f", "title": null, "labelPadding": 13.5}}}},
{"data": {"values": [{}]}, "mark": {"type": "rule", "color": "#888", "strokeWidth": 1.5},
"encoding": {"x": {"datum": 3.21, "type": "quantitative", "axis": null}, "y": {"datum": 0, "type": "quantitative", "axis": {"orient": "left", "offset": -96.7, "values": [0, 1, 2, 3, 4, 5, 6, 7, 8], "format": ".1f", "title": null, "labelPadding": 13.5}}, "y2": {"datum": 8}}},
{"data": {"name": "brk"}, "transform": [{"filter": "datum.panel==='b1'"}], "mark": {"type": "rule", "color": "#777", "strokeWidth": 1.5},
"encoding": {"x": {"field": "xa", "type": "quantitative", "axis": null}, "x2": {"field": "xb"}, "y": {"field": "yt", "type": "quantitative", "axis": {"orient": "left", "offset": -96.7, "values": [0, 1, 2, 3, 4, 5, 6, 7, 8], "format": ".1f", "title": null, "labelPadding": 13.5}}}},
{"data": {"name": "brk"}, "transform": [{"filter": "datum.panel==='b1'"}], "mark": {"type": "rule", "color": "#777", "strokeWidth": 1.5},
"encoding": {"x": {"field": "xa", "type": "quantitative", "axis": null}, "y": {"field": "yt", "type": "quantitative", "axis": {"orient": "left", "offset": -96.7, "values": [0, 1, 2, 3, 4, 5, 6, 7, 8], "format": ".1f", "title": null, "labelPadding": 13.5}}, "y2": {"field": "yl"}}},
{"data": {"name": "brk"}, "transform": [{"filter": "datum.panel==='b1'"}], "mark": {"type": "rule", "color": "#777", "strokeWidth": 1.5},
"encoding": {"x": {"field": "xb", "type": "quantitative", "axis": null}, "y": {"field": "yt", "type": "quantitative", "axis": {"orient": "left", "offset": -96.7, "values": [0, 1, 2, 3, 4, 5, 6, 7, 8], "format": ".1f", "title": null, "labelPadding": 13.5}}, "y2": {"field": "yl"}}},
{"data": {"name": "brk"}, "transform": [{"filter": "datum.panel==='b1'"}], "mark": {"type": "text", "fontSize": 15, "fill": "#666", "baseline": "alphabetic", "dy": 1},
"encoding": {"x": {"field": "sx", "type": "quantitative", "axis": null}, "y": {"field": "yt", "type": "quantitative", "axis": {"orient": "left", "offset": -96.7, "values": [0, 1, 2, 3, 4, 5, 6, 7, 8], "format": ".1f", "title": null, "labelPadding": 13.5}}, "text": {"field": "star"}}},
{"data": {"values": [{}]}, "mark": {"type": "rect", "filled": false, "stroke": "black", "strokeWidth": 1.5},
"encoding": {"x": {"datum": -2.665, "type": "quantitative", "axis": null}, "x2": {"datum": 3.311}, "y": {"datum": 9.495, "type": "quantitative", "axis": {"orient": "left", "offset": -96.7, "values": [0, 1, 2, 3, 4, 5, 6, 7, 8], "format": ".1f", "title": null, "labelPadding": 13.5}}, "y2": {"datum": -0.853}}},
{"data": {"values": [{}]}, "mark": {"type": "rect", "filled": false, "stroke": "#222", "strokeWidth": 2},
"encoding": {"x": {"datum": -4.393, "type": "quantitative", "axis": null}, "x2": {"datum": -2.852}, "y": {"datum": 9.325, "type": "quantitative", "axis": {"orient": "left", "offset": -96.7, "values": [0, 1, 2, 3, 4, 5, 6, 7, 8], "format": ".1f", "title": null, "labelPadding": 13.5}}, "y2": {"datum": 7.79}}},
{"data": {"values": [{}]}, "mark": {"type": "text", "text": "1: 1", "fontSize": 16, "fontWeight": "bold", "fill": "#222", "baseline": "middle"},
"encoding": {"x": {"datum": -3.623, "type": "quantitative", "axis": null}, "y": {"datum": 8.529, "type": "quantitative", "axis": {"orient": "left", "offset": -96.7, "values": [0, 1, 2, 3, 4, 5, 6, 7, 8], "format": ".1f", "title": null, "labelPadding": 13.5}}}},
{"data": {"values": [{}]}, "mark": {"type": "text", "text": "Hardness", "fontSize": 12, "fontWeight": "bold", "fill": "black", "baseline": "middle"},
"encoding": {"x": {"datum": 1.011, "type": "quantitative", "axis": null}, "y": {"datum": 8.813, "type": "quantitative", "axis": {"orient": "left", "offset": -96.7, "values": [0, 1, 2, 3, 4, 5, 6, 7, 8], "format": ".1f", "title": null, "labelPadding": 13.5}}}},
{"data": {"values": [{}]}, "mark": {"type": "text", "text": "×10 ⁴[N/m ²]", "fontSize": 12, "fontWeight": "bold", "fill": "black", "baseline": "middle", "angle": 270},
"encoding": {"x": {"datum": -2.183, "type": "quantitative", "axis": null}, "y": {"datum": 4.549, "type": "quantitative", "axis": {"orient": "left", "offset": -96.7, "values": [0, 1, 2, 3, 4, 5, 6, 7, 8], "format": ".1f", "title": null, "labelPadding": 13.5}}}}
]}
]},
{"resolve": {"scale": {"x": "independent"}}, "layer": [
{"layer": [
{"data": {"name": "bars"}, "transform": [{"filter": "datum.panel==='b2' && datum.cat==='H'"}],
"mark": {"type": "bar", "fill": {"gradient": "linear", "x1": 0, "y1": 0, "x2": 1, "y2": 0, "stops": [{"offset": 0, "color": "#b86800"}, {"offset": 0.3, "color": "#ff9a00"}, {"offset": 0.55, "color": "#f39000"}, {"offset": 1, "color": "#6e3c00"}]}},
"encoding": {"x": {"field": "cat", "type": "nominal", "scale": {"domain": ["H", "P", "P+WO"], "range": [243.3, 370], "paddingInner": 0, "paddingOuter": 0.76}, "axis": {"orient": "bottom", "offset": -17.3, "title": null, "labelFontSize": 10, "labelPadding": 1}},
"y": {"field": "val", "type": "quantitative", "scale": {"domain": [0, 0.8], "range": [367.7, 229.3], "nice": false, "zero": false}, "axis": {"orient": "left", "offset": -243.3, "values": [0, 0.1, 0.2, 0.3, 0.4, 0.5, 0.6, 0.7, 0.8], "format": ".1f", "title": null, "labelPadding": 12}}}},
{"data": {"name": "bars"}, "transform": [{"filter": "datum.panel==='b2' && datum.cat==='P'"}],
"mark": {"type": "bar", "fill": {"gradient": "linear", "x1": 0, "y1": 0, "x2": 1, "y2": 0, "stops": [{"offset": 0, "color": "#55789c"}, {"offset": 0.35, "color": "#a3d3ff"}, {"offset": 0.6, "color": "#8cbfee"}, {"offset": 1, "color": "#3c5a7a"}]}},
"encoding": {"x": {"field": "cat", "type": "nominal", "axis": {"orient": "bottom", "offset": -17.3, "title": null, "labelFontSize": 10, "labelPadding": 1}}, "y": {"field": "val", "type": "quantitative", "axis": {"orient": "left", "offset": -243.3, "values": [0, 0.1, 0.2, 0.3, 0.4, 0.5, 0.6, 0.7, 0.8], "format": ".1f", "title": null, "labelPadding": 12}}}},
{"data": {"name": "bars"}, "transform": [{"filter": "datum.panel==='b2' && datum.cat==='P+WO'"}],
"mark": {"type": "bar", "fill": {"gradient": "linear", "x1": 0, "y1": 0, "x2": 1, "y2": 0, "stops": [{"offset": 0, "color": "#9468c4"}, {"offset": 0.35, "color": "#cc99ff"}, {"offset": 0.6, "color": "#b386e6"}, {"offset": 1, "color": "#5c3d7e"}]}},
"encoding": {"x": {"field": "cat", "type": "nominal", "axis": {"orient": "bottom", "offset": -17.3, "title": null, "labelFontSize": 10, "labelPadding": 1}}, "y": {"field": "val", "type": "quantitative", "axis": {"orient": "left", "offset": -243.3, "values": [0, 0.1, 0.2, 0.3, 0.4, 0.5, 0.6, 0.7, 0.8], "format": ".1f", "title": null, "labelPadding": 12}}}},
{"data": {"name": "bars"}, "transform": [{"filter": "datum.panel==='b2'"}], "mark": {"type": "rule", "color": "black", "strokeWidth": 1.2},
"encoding": {"x": {"field": "cat", "type": "nominal", "axis": {"orient": "bottom", "offset": -17.3, "title": null, "labelFontSize": 10, "labelPadding": 1}}, "y": {"field": "lo", "type": "quantitative", "axis": {"orient": "left", "offset": -243.3, "values": [0, 0.1, 0.2, 0.3, 0.4, 0.5, 0.6, 0.7, 0.8], "format": ".1f", "title": null, "labelPadding": 12}}, "y2": {"field": "hi"}}},
{"data": {"name": "bars"}, "transform": [{"filter": "datum.panel==='b2'"}], "mark": {"type": "tick", "color": "black", "thickness": 1.2, "size": 8, "opacity": 1},
"encoding": {"x": {"field": "cat", "type": "nominal", "axis": {"orient": "bottom", "offset": -17.3, "title": null, "labelFontSize": 10, "labelPadding": 1}}, "y": {"field": "lo", "type": "quantitative", "axis": {"orient": "left", "offset": -243.3, "values": [0, 0.1, 0.2, 0.3, 0.4, 0.5, 0.6, 0.7, 0.8], "format": ".1f", "title": null, "labelPadding": 12}}}},
{"data": {"name": "bars"}, "transform": [{"filter": "datum.panel==='b2'"}], "mark": {"type": "tick", "color": "black", "thickness": 1.2, "size": 8, "opacity": 1},
"encoding": {"x": {"field": "cat", "type": "nominal", "axis": {"orient": "bottom", "offset": -17.3, "title": null, "labelFontSize": 10, "labelPadding": 1}}, "y": {"field": "hi", "type": "quantitative", "axis": {"orient": "left", "offset": -243.3, "values": [0, 0.1, 0.2, 0.3, 0.4, 0.5, 0.6, 0.7, 0.8], "format": ".1f", "title": null, "labelPadding": 12}}}}
]},
{"layer": [
{"data": {"values": [{}]}, "mark": {"type": "rule", "color": "#888", "strokeWidth": 1.5},
"encoding": {"x": {"datum": -1.26, "type": "quantitative", "scale": {"domain": [-1.26, 3.26], "range": [243.3, 370], "nice": false, "zero": false}, "axis": null}, "x2": {"datum": 3.26}, "y": {"datum": 0.8, "type": "quantitative", "axis": {"orient": "left", "offset": -243.3, "values": [0, 0.1, 0.2, 0.3, 0.4, 0.5, 0.6, 0.7, 0.8], "format": ".1f", "title": null, "labelPadding": 12}}}},
{"data": {"values": [{}]}, "mark": {"type": "rule", "color": "#888", "strokeWidth": 1.5},
"encoding": {"x": {"datum": 3.26, "type": "quantitative", "axis": null}, "y": {"datum": 0, "type": "quantitative", "axis": {"orient": "left", "offset": -243.3, "values": [0, 0.1, 0.2, 0.3, 0.4, 0.5, 0.6, 0.7, 0.8], "format": ".1f", "title": null, "labelPadding": 12}}, "y2": {"datum": 0.8}}},
{"data": {"values": [{}]}, "mark": {"type": "rect", "filled": false, "stroke": "black", "strokeWidth": 1.5},
"encoding": {"x": {"datum": -2.02, "type": "quantitative", "axis": null}, "x2": {"datum": 3.403}, "y": {"datum": 0.9595, "type": "quantitative", "axis": {"orient": "left", "offset": -243.3, "values": [0, 0.1, 0.2, 0.3, 0.4, 0.5, 0.6, 0.7, 0.8], "format": ".1f", "title": null, "labelPadding": 12}}, "y2": {"datum": -0.0942}}},
{"data": {"values": [{}]}, "mark": {"type": "text", "text": "Cohesiveness", "fontSize": 12, "fontWeight": "bold", "fill": "black", "baseline": "middle"},
"encoding": {"x": {"datum": 0.905, "type": "quantitative", "axis": null}, "y": {"datum": 0.8786, "type": "quantitative", "axis": {"orient": "left", "offset": -243.3, "values": [0, 0.1, 0.2, 0.3, 0.4, 0.5, 0.6, 0.7, 0.8], "format": ".1f", "title": null, "labelPadding": 12}}}}
]}
]},
{"resolve": {"scale": {"x": "independent"}}, "layer": [
{"layer": [
{"data": {"name": "bars"}, "transform": [{"filter": "datum.panel==='b3' && datum.cat==='H'"}],
"mark": {"type": "bar", "fill": {"gradient": "linear", "x1": 0, "y1": 0, "x2": 1, "y2": 0, "stops": [{"offset": 0, "color": "#b86800"}, {"offset": 0.3, "color": "#ff9a00"}, {"offset": 0.55, "color": "#f39000"}, {"offset": 1, "color": "#6e3c00"}]}},
"encoding": {"x": {"field": "cat", "type": "nominal", "scale": {"domain": ["H", "P", "P+WO"], "range": [410, 523], "paddingInner": 0, "paddingOuter": 0.71, "align": 0.55}, "axis": {"orient": "bottom", "offset": -18.3, "title": null, "labelFontSize": 9.5, "labelPadding": 0}},
"y": {"field": "val", "type": "quantitative", "scale": {"domain": [0, 100], "range": [366.7, 227.3], "nice": false, "zero": false}, "axis": {"orient": "left", "offset": -410, "values": [0, 20, 40, 60, 80, 100], "format": "d", "title": null, "labelPadding": 4}}}},
{"data": {"name": "bars"}, "transform": [{"filter": "datum.panel==='b3' && datum.cat==='P'"}],
"mark": {"type": "bar", "fill": {"gradient": "linear", "x1": 0, "y1": 0, "x2": 1, "y2": 0, "stops": [{"offset": 0, "color": "#55789c"}, {"offset": 0.35, "color": "#a3d3ff"}, {"offset": 0.6, "color": "#8cbfee"}, {"offset": 1, "color": "#3c5a7a"}]}},
"encoding": {"x": {"field": "cat", "type": "nominal", "axis": {"orient": "bottom", "offset": -18.3, "title": null, "labelFontSize": 9.5, "labelPadding": 0}}, "y": {"field": "val", "type": "quantitative", "axis": {"orient": "left", "offset": -410, "values": [0, 20, 40, 60, 80, 100], "format": "d", "title": null, "labelPadding": 4}}}},
{"data": {"name": "bars"}, "transform": [{"filter": "datum.panel==='b3' && datum.cat==='P+WO'"}],
"mark": {"type": "bar", "fill": {"gradient": "linear", "x1": 0, "y1": 0, "x2": 1, "y2": 0, "stops": [{"offset": 0, "color": "#9468c4"}, {"offset": 0.35, "color": "#cc99ff"}, {"offset": 0.6, "color": "#b386e6"}, {"offset": 1, "color": "#5c3d7e"}]}},
"encoding": {"x": {"field": "cat", "type": "nominal", "axis": {"orient": "bottom", "offset": -18.3, "title": null, "labelFontSize": 9.5, "labelPadding": 0}}, "y": {"field": "val", "type": "quantitative", "axis": {"orient": "left", "offset": -410, "values": [0, 20, 40, 60, 80, 100], "format": "d", "title": null, "labelPadding": 4}}}},
{"data": {"name": "bars"}, "transform": [{"filter": "datum.panel==='b3'"}], "mark": {"type": "rule", "color": "black", "strokeWidth": 1.2},
"encoding": {"x": {"field": "cat", "type": "nominal", "axis": {"orient": "bottom", "offset": -18.3, "title": null, "labelFontSize": 9.5, "labelPadding": 0}}, "y": {"field": "lo", "type": "quantitative", "axis": {"orient": "left", "offset": -410, "values": [0, 20, 40, 60, 80, 100], "format": "d", "title": null, "labelPadding": 4}}, "y2": {"field": "hi"}}},
{"data": {"name": "bars"}, "transform": [{"filter": "datum.panel==='b3'"}], "mark": {"type": "tick", "color": "black", "thickness": 1.2, "size": 8, "opacity": 1},
"encoding": {"x": {"field": "cat", "type": "nominal", "axis": {"orient": "bottom", "offset": -18.3, "title": null, "labelFontSize": 9.5, "labelPadding": 0}}, "y": {"field": "lo", "type": "quantitative", "axis": {"orient": "left", "offset": -410, "values": [0, 20, 40, 60, 80, 100], "format": "d", "title": null, "labelPadding": 4}}}},
{"data": {"name": "bars"}, "transform": [{"filter": "datum.panel==='b3'"}], "mark": {"type": "tick", "color": "black", "thickness": 1.2, "size": 8, "opacity": 1},
"encoding": {"x": {"field": "cat", "type": "nominal", "axis": {"orient": "bottom", "offset": -18.3, "title": null, "labelFontSize": 9.5, "labelPadding": 0}}, "y": {"field": "hi", "type": "quantitative", "axis": {"orient": "left", "offset": -410, "values": [0, 20, 40, 60, 80, 100], "format": "d", "title": null, "labelPadding": 4}}}}
]},
{"layer": [
{"data": {"values": [{}]}, "mark": {"type": "rule", "color": "#888", "strokeWidth": 1.5},
"encoding": {"x": {"datum": -1.281, "type": "quantitative", "scale": {"domain": [-1.281, 3.139], "range": [410, 523], "nice": false, "zero": false}, "axis": null}, "x2": {"datum": 3.139}, "y": {"datum": 100, "type": "quantitative", "axis": {"orient": "left", "offset": -410, "values": [0, 20, 40, 60, 80, 100], "format": "d", "title": null, "labelPadding": 4}}}},
{"data": {"values": [{}]}, "mark": {"type": "rule", "color": "#888", "strokeWidth": 1.5},
"encoding": {"x": {"datum": 3.139, "type": "quantitative", "axis": null}, "y": {"datum": 0, "type": "quantitative", "axis": {"orient": "left", "offset": -410, "values": [0, 20, 40, 60, 80, 100], "format": "d", "title": null, "labelPadding": 4}}, "y2": {"datum": 100}}},
{"data": {"name": "brk"}, "transform": [{"filter": "datum.panel==='b3'"}], "mark": {"type": "rule", "color": "#777", "strokeWidth": 1.5},
"encoding": {"x": {"field": "xa", "type": "quantitative", "axis": null}, "x2": {"field": "xb"}, "y": {"field": "yt", "type": "quantitative", "axis": {"orient": "left", "offset": -410, "values": [0, 20, 40, 60, 80, 100], "format": "d", "title": null, "labelPadding": 4}}}},
{"data": {"name": "brk"}, "transform": [{"filter": "datum.panel==='b3'"}], "mark": {"type": "rule", "color": "#777", "strokeWidth": 1.5},
"encoding": {"x": {"field": "xa", "type": "quantitative", "axis": null}, "y": {"field": "yt", "type": "quantitative", "axis": {"orient": "left", "offset": -410, "values": [0, 20, 40, 60, 80, 100], "format": "d", "title": null, "labelPadding": 4}}, "y2": {"field": "yl"}}},
{"data": {"name": "brk"}, "transform": [{"filter": "datum.panel==='b3'"}], "mark": {"type": "rule", "color": "#777", "strokeWidth": 1.5},
"encoding": {"x": {"field": "xb", "type": "quantitative", "axis": null}, "y": {"field": "yt", "type": "quantitative", "axis": {"orient": "left", "offset": -410, "values": [0, 20, 40, 60, 80, 100], "format": "d", "title": null, "labelPadding": 4}}, "y2": {"field": "yl"}}},
{"data": {"name": "brk"}, "transform": [{"filter": "datum.panel==='b3'"}], "mark": {"type": "text", "fontSize": 15, "fill": "#666", "baseline": "alphabetic", "dy": 1},
"encoding": {"x": {"field": "sx", "type": "quantitative", "axis": null}, "y": {"field": "yt", "type": "quantitative", "axis": {"orient": "left", "offset": -410, "values": [0, 20, 40, 60, 80, 100], "format": "d", "title": null, "labelPadding": 4}}, "text": {"field": "star"}}},
{"data": {"values": [{}]}, "mark": {"type": "rect", "filled": false, "stroke": "black", "strokeWidth": 1.5},
"encoding": {"x": {"datum": -2.65, "type": "quantitative", "axis": null}, "x2": {"datum": 3.217}, "y": {"datum": 120.3, "type": "quantitative", "axis": {"orient": "left", "offset": -410, "values": [0, 20, 40, 60, 80, 100], "format": "d", "title": null, "labelPadding": 4}}, "y2": {"datum": -11.69}}},
{"data": {"values": [{}]}, "mark": {"type": "text", "text": "Adhesiveness", "fontSize": 12, "fontWeight": "bold", "fill": "black", "baseline": "middle"},
"encoding": {"x": {"datum": 0.976, "type": "quantitative", "axis": null}, "y": {"datum": 109.54, "type": "quantitative", "axis": {"orient": "left", "offset": -410, "values": [0, 20, 40, 60, 80, 100], "format": "d", "title": null, "labelPadding": 4}}}},
{"data": {"values": [{}]}, "mark": {"type": "text", "text": "×10[J/m³]", "fontSize": 12, "fontWeight": "bold", "fill": "black", "baseline": "middle", "angle": 270},
"encoding": {"x": {"datum": -2.192, "type": "quantitative", "axis": null}, "y": {"datum": 50.0, "type": "quantitative", "axis": {"orient": "left", "offset": -410, "values": [0, 20, 40, 60, 80, 100], "format": "d", "title": null, "labelPadding": 4}}}}
]}
]}
]
}
